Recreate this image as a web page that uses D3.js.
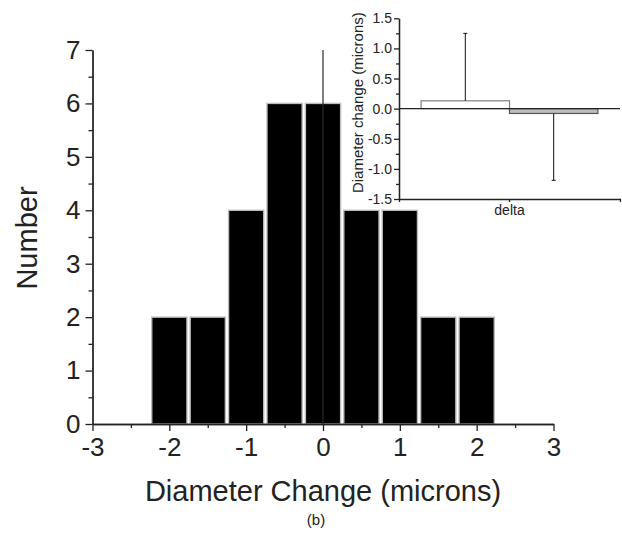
<!DOCTYPE html>
<html>
<head>
<meta charset="utf-8">
<script src="https://cdn.jsdelivr.net/npm/d3@7"></script>
<style>
body { margin: 0; background: #fff; }
svg { font-family: "Liberation Sans", Arial, sans-serif; }
.axis path, .axis line { stroke: #222; stroke-width: 1.3; }
.axis text { fill: #222; }
</style>
</head>
<body>
<script>
// histogram data
const binCenters = [-2, -1.5, -1, -0.5, 0, 0.5, 1, 1.5, 2];
const counts = [2, 2, 4, 6, 6, 4, 4, 2, 2];
const binWidth = 0.5;
const xTicks = [-3, -2, -1, 0, 1, 2, 3];
const xMinorTicks = [-2.5, -1.5, -0.5, 0.5, 1.5, 2.5];
const yTicks = [0, 1, 2, 3, 4, 5, 6, 7];
const yMinorTicks = [0.5, 1.5, 2.5, 3.5, 4.5, 5.5, 6.5];

// inset data
const insetCategories = ["delta"];
const insetSeries = ["up", "down"];
const insetMeans = [0.13, -0.08];
const insetErrors = [1.12, 1.11];
const insetTicks = [-1.5, -1.0, -0.5, 0.0, 0.5, 1.0, 1.5];
const insetMinorTicks = [-1.25, -0.75, -0.25, 0.25, 0.75, 1.25];

const width = 622;
const height = 539;

const svg = d3.select("body")
  .append("svg")
  .attr("width", width)
  .attr("height", height);

// main scales
const x = d3.scaleLinear().domain([-3, 3]).range([92.5, 553.5]);
const y = d3.scaleLinear().domain([0, 7]).range([424, 50]);

// bars
svg.selectAll(".bar")
  .data(counts)
  .enter()
  .append("rect")
  .attr("class", "bar")
  .attr("x", (d, i) => x(binCenters[i] - binWidth / 2) + 1.6)
  .attr("width", (d, i) => x(binCenters[i] + binWidth / 2) - x(binCenters[i] - binWidth / 2) - 3.2)
  .attr("y", d => y(d))
  .attr("height", d => y(0) - y(d))
  .attr("fill", "#000")
  .attr("stroke", "#bdbdbd")
  .attr("stroke-width", 1.4);

// zero line
svg.append("line")
  .attr("x1", x(0)).attr("x2", x(0))
  .attr("y1", y(7)).attr("y2", y(0))
  .attr("stroke", "#2a2a2a")
  .attr("stroke-width", 1.2);

// axes
const fmt = d => String(d);

svg.append("g")
  .attr("class", "axis")
  .attr("transform", `translate(0,${y(0)})`)
  .call(d3.axisBottom(x).tickValues(xMinorTicks).tickSize(4).tickSizeOuter(0).tickFormat(""));

svg.append("g")
  .attr("class", "axis")
  .attr("transform", `translate(0,${y(0)})`)
  .call(d3.axisBottom(x).tickValues(xTicks).tickSize(7).tickSizeOuter(0).tickPadding(7).tickFormat(fmt))
  .selectAll("text").attr("font-size", 26);

svg.append("g")
  .attr("class", "axis")
  .attr("transform", `translate(${x(-3)},0)`)
  .call(d3.axisLeft(y).tickValues(yMinorTicks).tickSize(4).tickSizeOuter(0).tickFormat(""));

svg.append("g")
  .attr("class", "axis")
  .attr("transform", `translate(${x(-3)},0)`)
  .call(d3.axisLeft(y).tickValues(yTicks).tickSize(7).tickSizeOuter(0).tickPadding(5).tickFormat(fmt))
  .selectAll("text").attr("font-size", 26);

svg.selectAll(".axis .domain").attr("fill", "none");

// titles
svg.append("text")
  .attr("x", 323).attr("y", 501)
  .attr("text-anchor", "middle")
  .attr("font-size", 29)
  .attr("fill", "#222")
  .text("Diameter Change (microns)");

svg.append("text")
  .attr("transform", "translate(37,238) rotate(-90)")
  .attr("text-anchor", "middle")
  .attr("font-size", 29)
  .attr("fill", "#222")
  .text("Number");

svg.append("text")
  .attr("x", 316).attr("y", 525)
  .attr("text-anchor", "middle")
  .attr("font-size", 15)
  .attr("fill", "#222")
  .text("(b)");

// inset
const xi = d3.scaleBand().domain(insetCategories).range([399, 620]).paddingInner(0).paddingOuter(0.125);
const xs = d3.scaleBand().domain(insetSeries).range([0, xi.bandwidth()]);
const yi = d3.scaleLinear().domain([-1.5, 1.5]).range([199, 18.3]);

const inset = svg.append("g");

inset.selectAll(".ibar")
  .data(insetMeans)
  .enter()
  .append("rect")
  .attr("class", "ibar")
  .attr("x", (d, i) => xi("delta") + xs(insetSeries[i]))
  .attr("width", xs.bandwidth())
  .attr("y", d => yi(Math.max(0, d)))
  .attr("height", d => Math.abs(yi(d) - yi(0)))
  .attr("fill", (d, i) => i == 0 ? "#fff" : "#bdbdbd")
  .attr("stroke", (d, i) => i == 0 ? "#808080" : "#555")
  .attr("stroke-width", 1.2);

// error bars
inset.selectAll(".err")
  .data(insetMeans)
  .enter()
  .append("g")
  .attr("class", "err")
  .each(function(d, i) {
    const cx = xi("delta") + xs(insetSeries[i]) + xs.bandwidth() / 2;
    const end = d >= 0 ? d + insetErrors[i] : d - insetErrors[i];
    d3.select(this).append("line")
      .attr("x1", cx).attr("x2", cx)
      .attr("y1", yi(d)).attr("y2", yi(end))
      .attr("stroke", "#111").attr("stroke-width", 1);
    d3.select(this).append("line")
      .attr("x1", cx - 2).attr("x2", cx + 2)
      .attr("y1", yi(end)).attr("y2", yi(end))
      .attr("stroke", "#111").attr("stroke-width", 1);
  });

// inset zero line
inset.append("line")
  .attr("x1", 399).attr("x2", 620)
  .attr("y1", yi(0)).attr("y2", yi(0))
  .attr("stroke", "#222").attr("stroke-width", 1.2);

inset.append("g")
  .attr("class", "axis")
  .attr("transform", `translate(0,${yi(-1.5)})`)
  .call(d3.axisBottom(xi).tickSize(3).tickSizeOuter(3).tickPadding(3))
  .selectAll("text").attr("font-size", 14);

inset.append("g")
  .attr("class", "axis")
  .attr("transform", "translate(399,0)")
  .call(d3.axisLeft(yi).tickValues(insetMinorTicks).tickSize(3).tickSizeOuter(0).tickFormat(""));

inset.append("g")
  .attr("class", "axis")
  .attr("transform", "translate(399,0)")
  .call(d3.axisLeft(yi).tickValues(insetTicks).tickSize(5).tickSizeOuter(0).tickPadding(2).tickFormat(d => d.toFixed(1)))
  .selectAll("text").attr("font-size", 14);

inset.selectAll(".axis path, .axis line").attr("stroke-width", 1.1);
svg.selectAll(".domain").attr("fill", "none");

inset.append("text")
  .attr("transform", `translate(363,${yi(0) - 6}) rotate(-90)`)
  .attr("text-anchor", "middle")
  .attr("font-size", 15)
  .attr("fill", "#222")
  .text("Diameter change (microns)");
</script>
</body>
</html>
